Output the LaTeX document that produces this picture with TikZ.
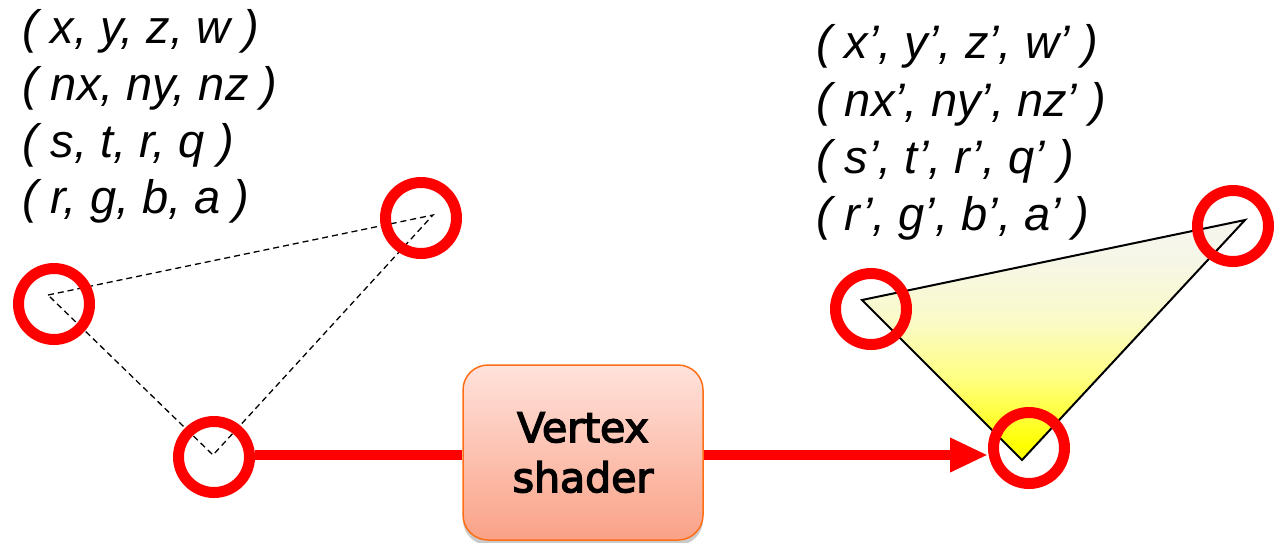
\documentclass[tikz,border=0pt]{standalone}
\usepackage{fontspec}
\setmainfont{Liberation Sans}
\newfontfamily\boxfont[FakeBold=3.5]{DejaVu Sans}
\usetikzlibrary{arrows.meta,shadows}
\definecolor{ringred}{RGB}{255,0,0}
\definecolor{boxedge}{RGB}{255,110,20}
\definecolor{boxtop}{RGB}{255,226,220}
\definecolor{boxbot}{RGB}{250,162,135}
\definecolor{tritop}{RGB}{245,245,238}
\definecolor{triupper}{RGB}{246,246,232}
\definecolor{trimid}{RGB}{250,250,200}
\definecolor{trilow}{RGB}{255,255,130}
\definecolor{tribot}{RGB}{255,255,0}
\pgfdeclareverticalshading{triyellow}{100bp}{color(0bp)=(tribot); color(28bp)=(tribot); color(42bp)=(trilow); color(54bp)=(trimid); color(67bp)=(triupper); color(75bp)=(tritop); color(100bp)=(tritop)}
\begin{document}
\begin{tikzpicture}[x=1pt,y=-1pt,
  ring/.style={circle, draw=ringred, line width=11pt, minimum size=71pt, inner sep=0pt},
  lbl/.style={anchor=base west, inner sep=0pt, font=\itshape\fontsize{47}{50}\selectfont},
  dashedge/.style={draw, dash pattern=on 6pt off 4pt, line width=1.3pt},
  solidedge/.style={draw, line width=2pt, line join=miter},
  flow/.style={draw=ringred, line width=10pt},
  shaderbox/.style={draw=boxedge, line width=1.5pt, rounded corners=25pt,
    minimum width=240pt, minimum height=175pt, top color=boxtop, bottom color=boxbot,
    drop shadow={shadow xshift=0pt, shadow yshift=-5pt, opacity=0.35, fill=black!60},
    align=center, font=\boxfont\fontsize{41}{50}\selectfont}
]
\useasboundingbox (0,0) rectangle (1274,542);

% left labels
\node[lbl] (l1) at (22,43)  {( x, y, z, w )};
\node[lbl] (l2) at (22,100) {( nx, ny, nz )};
\node[lbl] (l3) at (22,157) {( s, t, r, q )};
\node[lbl] (l4) at (22,213) {( r, g, b, a )};

% right labels
\node[lbl] (r1) at (816,58)  {( x’, y’, z’, w’ )};
\node[lbl] (r2) at (816,116) {( nx’, ny’, nz’ )};
\node[lbl] (r3) at (816,173) {( s’, t’, r’, q’ )};
\node[lbl] (r4) at (816,230) {( r’, g’, b’, a’ )};

% left triangle (dashed)
\coordinate (A) at (48,295);
\coordinate (B) at (433,215);
\coordinate (C) at (213,455);
\draw[dashedge] (A) -- (B) -- (C) -- cycle;

% right triangle (shaded)
\coordinate (D) at (862,300);
\coordinate (E) at (1245,220);
\coordinate (F) at (1022,460);
\shade[shading=triyellow] (D) -- (E) -- (F) -- cycle;
\draw[solidedge] (D) -- (E) -- (F) -- cycle;

% rings
\node[ring] (rA) at (54,304) {};
\node[ring] (rB) at (421,218) {};
\node[ring] (rC) at (214,457) {};
\node[ring] (rD) at (871,309) {};
\node[ring] (rE) at (1233,226) {};
\node[ring] (rF) at (1029,448) {};

% shader box
\node[shaderbox] (vs) at (583,452.5) {Vertex\\shader};

% flow arrows
\coordinate (tip) at (988,455);
\draw[flow] (rC.east |- tip) -- (vs.west |- tip);
\draw[flow, -{Triangle[length=38pt,width=32pt]}] (vs.east |- tip) -- (tip);
\end{tikzpicture}
\end{document}
